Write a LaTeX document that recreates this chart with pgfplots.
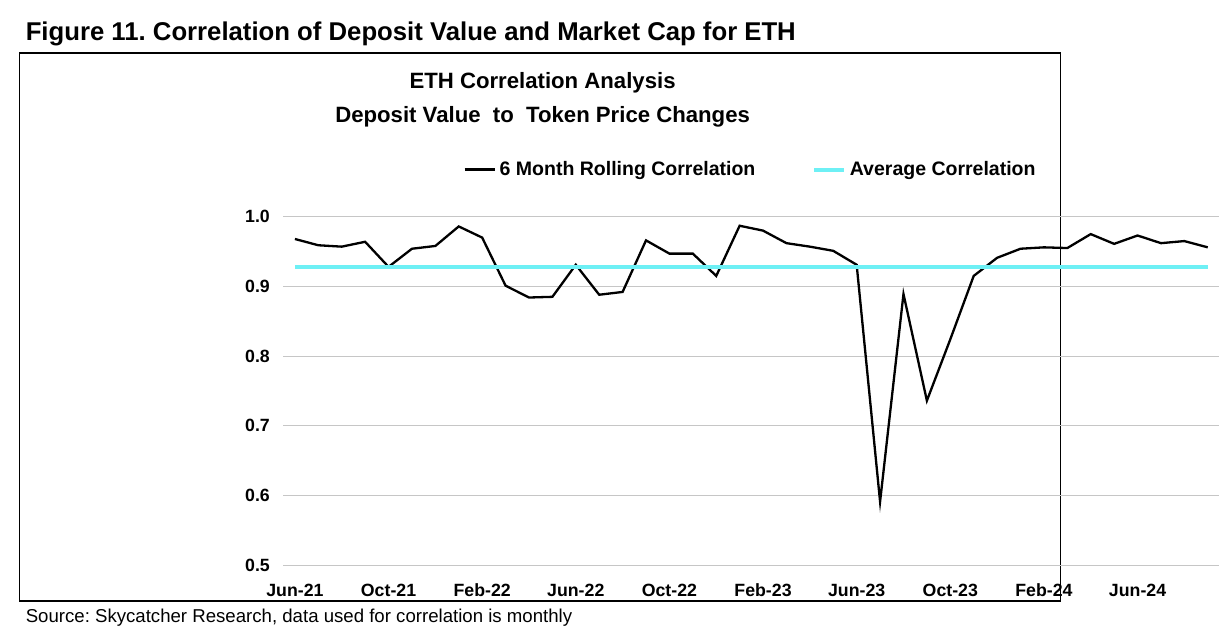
\documentclass[border=0pt]{standalone}
\usepackage{pgfplots}
\pgfplotsset{compat=1.18}
\usepackage{fontspec}
\setmainfont{Liberation Sans}
\frenchspacing
\begin{document}
\begin{tikzpicture}[x=0.5pt,y=0.5pt]
\path (0,0) rectangle (1220,716);
\draw[line width=1pt] (22,716-60) rectangle (1196,716-678);
\node[anchor=west,font=\bfseries\fontsize{14.5}{16}\selectfont] at (22,716-38) {Figure 11. Correlation of Deposit Value and Market Cap for ETH};
\node[font=\bfseries\fontsize{12.5}{14}\selectfont] at (612,716-93) {ETH Correlation Analysis};
\node[font=\bfseries\fontsize{12.5}{14}\selectfont] at (612,716-132) {Deposit Value\ \ to\ \ Token Price Changes};
\node[anchor=west,font=\fontsize{10.5}{12}\selectfont] at (22,716-697) {Source: Skycatcher Research, data used for correlation is monthly};
\begin{axis}[at={(121,100)},anchor=south west,scale only axis,
 width=528pt,height=196.5pt,
 xmin=-0.5,xmax=39.5,ymin=0.5,ymax=1.0,
 axis line style={draw=none},
 ytick={0.5,0.6,...,1.0},
 yticklabel style={/pgf/number format/fixed,/pgf/number format/fixed zerofill,/pgf/number format/precision=1,font=\bfseries\fontsize{10}{12}\selectfont,xshift=-4pt},
 /pgf/number format/assume math mode=true,
 ymajorgrids, grid style={gray!45,line width=0.6pt},
 xtick={0,4,...,36},
 xticklabels={Jun-21,Oct-21,Feb-22,Jun-22,Oct-22,Feb-23,Jun-23,Oct-23,Feb-24,Jun-24},
 xticklabel style={font=\bfseries\fontsize{10}{12}\selectfont,yshift=-7pt},
 major tick length=0pt,
 legend columns=2,
 legend style={draw=none,at={(0.5,1.135)},anchor=center,font=\bfseries\fontsize{11}{13}\selectfont,/tikz/every even column/.append style={column sep=30pt}},
 ]
\addplot[black,line width=1.3pt,mark=none] coordinates {
(0,0.968)(1,0.959)(2,0.957)(3,0.964)(4,0.928)(5,0.954)(6,0.958)(7,0.986)(8,0.970)(9,0.901)
(10,0.884)(11,0.885)(12,0.931)(13,0.888)(14,0.892)(15,0.966)(16,0.947)(17,0.947)(18,0.915)(19,0.987)
(20,0.980)(21,0.962)(22,0.957)(23,0.951)(24,0.931)(25,0.591)(26,0.889)(27,0.736)(28,0.824)(29,0.915)
(30,0.941)(31,0.954)(32,0.956)(33,0.955)(34,0.975)(35,0.961)(36,0.973)(37,0.962)(38,0.965)(39,0.956)};
\addlegendentry{6 Month Rolling Correlation}
\addplot[color={rgb,255:red,110;green,240;blue,245},line width=2.2pt,mark=none] coordinates {(0,0.928)(39,0.928)};
\addlegendentry{Average Correlation}
\end{axis}
\end{tikzpicture}
\end{document}
